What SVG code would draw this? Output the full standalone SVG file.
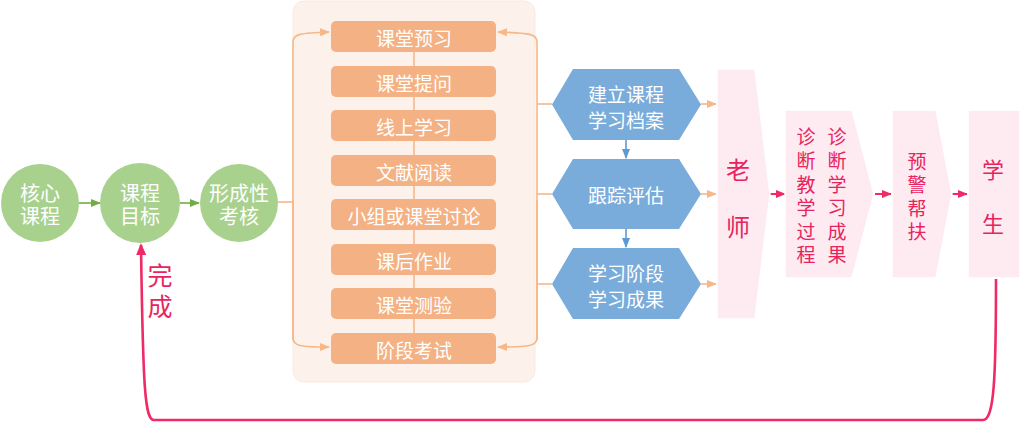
<svg xmlns="http://www.w3.org/2000/svg" width="1021" height="423" viewBox="0 0 1021 423">
<style>
text{font-family:"Noto Sans CJK SC","Noto Sans",sans-serif;text-anchor:middle;dominant-baseline:central}
.circ{fill:#a9d18e}
.wt{fill:#fff;font-size:19px}
.box{fill:#f4b183}
.hex{fill:#79acdb}
.pink{fill:#fdebf1;stroke:#fff;stroke-width:1.5}
.rt{fill:#e8245f}
.og{stroke:#f6b889;stroke-width:1.6;fill:none}
.gl{stroke:#70ad47;stroke-width:1.6;fill:none}
.bl{stroke:#5b9bd5;stroke-width:1.6;fill:none}
.rl{stroke:#ef2a66;stroke-width:2;fill:none}
.fb{stroke:#ef2a66;stroke-width:2.6;fill:none}
</style>
<defs>
<marker id="ao" markerUnits="userSpaceOnUse" markerWidth="10" markerHeight="8" refX="9" refY="4" orient="auto"><path d="M0,0 L10,4 L0,8 z" fill="#f6b889"/></marker>
<marker id="ag" markerUnits="userSpaceOnUse" markerWidth="10" markerHeight="8" refX="9" refY="4" orient="auto"><path d="M0,0 L10,4 L0,8 z" fill="#70ad47"/></marker>
<marker id="ab" markerUnits="userSpaceOnUse" markerWidth="10" markerHeight="8" refX="9" refY="4" orient="auto"><path d="M0,0 L10,4 L0,8 z" fill="#5b9bd5"/></marker>
<marker id="ar" markerUnits="userSpaceOnUse" markerWidth="10" markerHeight="8" refX="9" refY="4" orient="auto"><path d="M0,0 L10,4 L0,8 z" fill="#ef2a66"/></marker>
<marker id="arb" markerUnits="userSpaceOnUse" markerWidth="12" markerHeight="10" refX="10" refY="5" orient="auto"><path d="M0,0 L12,5 L0,10 z" fill="#ef2a66"/></marker>
</defs>

<rect id="panel" x="293" y="1" width="242" height="381" rx="11" fill="#fcf2eb" stroke="#fbe9dc" stroke-width="1"/>

<g id="connectors">
<line class="gl" x1="79" y1="203" x2="100" y2="203" marker-end="url(#ag)"/>
<line class="gl" x1="180" y1="203" x2="199" y2="203" marker-end="url(#ag)"/>
<line class="og" x1="278" y1="202" x2="293" y2="202"/>
<path class="og" d="M293 340 L293 42 C293 34 300 33 329 32" marker-end="url(#ao)"/>
<path class="og" d="M293 200 L293 338 C293 346 300 347 329 347" marker-end="url(#ao)"/>
<path class="og" d="M537 340 L537 42 C537 34 530 33 498 32" marker-end="url(#ao)"/>
<path class="og" d="M537 200 L537 338 C537 346 530 347 498 347" marker-end="url(#ao)"/>
<line class="og" x1="414" y1="52" x2="414" y2="333"/>
<line class="og" x1="537" y1="104" x2="552" y2="104"/>
<line class="og" x1="537" y1="194" x2="552" y2="194"/>
<line class="og" x1="537" y1="284" x2="552" y2="284"/>
<line class="og" x1="701" y1="104" x2="716" y2="104" marker-end="url(#ao)"/>
<line class="og" x1="701" y1="194" x2="716" y2="194" marker-end="url(#ao)"/>
<line class="og" x1="701" y1="284" x2="716" y2="284" marker-end="url(#ao)"/>
<line class="bl" x1="626" y1="140" x2="626" y2="158" marker-end="url(#ab)"/>
<line class="bl" x1="626" y1="229" x2="626" y2="247" marker-end="url(#ab)"/>
<line class="rl" x1="770" y1="194" x2="785" y2="194" marker-end="url(#ar)"/>
<line class="rl" x1="875" y1="194" x2="891" y2="194" marker-end="url(#ar)"/>
<line class="rl" x1="952" y1="194" x2="967" y2="194" marker-end="url(#ar)"/>
<path class="fb" d="M996 279 C996 380 994 420 983 420 L154 420 C145 420 143 390 141 245" marker-end="url(#arb)"/>
</g>

<g id="n-hexin"><circle class="circ" cx="40" cy="203" r="39"/><text class="wt" x="40" y="192" style="font-size:20px">核心</text><text class="wt" x="40" y="215" style="font-size:20px">课程</text></g>
<g id="n-mubiao"><circle class="circ" cx="140" cy="203" r="40"/><text class="wt" x="140" y="192" style="font-size:20px">课程</text><text class="wt" x="140" y="215" style="font-size:20px">目标</text></g>
<g id="n-kaohe"><circle class="circ" cx="239" cy="203" r="39"/><text class="wt" x="239" y="192" style="font-size:20px">形成性</text><text class="wt" x="239" y="215" style="font-size:20px">考核</text></g>

<g id="b1"><rect class="box" x="331" y="21" width="165" height="31" rx="5"/><text class="wt" x="414" y="37">课堂预习</text></g>
<g id="b2"><rect class="box" x="331" y="66" width="165" height="31" rx="5"/><text class="wt" x="414" y="82">课堂提问</text></g>
<g id="b3"><rect class="box" x="331" y="110" width="165" height="31" rx="5"/><text class="wt" x="414" y="126">线上学习</text></g>
<g id="b4"><rect class="box" x="331" y="155" width="165" height="31" rx="5"/><text class="wt" x="414" y="171">文献阅读</text></g>
<g id="b5"><rect class="box" x="331" y="199" width="165" height="31" rx="5"/><text class="wt" x="414" y="215">小组或课堂讨论</text></g>
<g id="b6"><rect class="box" x="331" y="244" width="165" height="31" rx="5"/><text class="wt" x="414" y="260">课后作业</text></g>
<g id="b7"><rect class="box" x="331" y="288" width="165" height="31" rx="5"/><text class="wt" x="414" y="304">课堂测验</text></g>
<g id="b8"><rect class="box" x="331" y="333" width="165" height="31" rx="5"/><text class="wt" x="414" y="349">阶段考试</text></g>

<g id="h1"><polygon class="hex" points="552,104.5 573,69 679,69 701,104.5 679,140 573,140"/><text class="wt" x="626" y="93">建立课程</text><text class="wt" x="626" y="119">学习档案</text></g>
<g id="h2"><polygon class="hex" points="552,194 573,159 679,159 701,194 679,229 573,229"/><text class="wt" x="626" y="194">跟踪评估</text></g>
<g id="h3"><polygon class="hex" points="552,284 573,248 679,248 701,284 679,319 573,319"/><text class="wt" x="626" y="272">学习阶段</text><text class="wt" x="626" y="298">学习成果</text></g>

<g id="p-laoshi"><polygon class="pink" points="717,69 755,69 770,194 755,319 717,319"/><text class="rt" x="738" y="168" style="font-size:24px">老</text><text class="rt" x="738" y="225" style="font-size:24px">师</text></g>
<g id="p-zhenduan"><polygon class="pink" points="785,110 852,110 874,194 852,278 785,278"/>
<text class="rt" x="806" y="135" style="font-size:19px">诊</text><text class="rt" x="806" y="159" style="font-size:19px">断</text><text class="rt" x="806" y="183" style="font-size:19px">教</text><text class="rt" x="806" y="206" style="font-size:19px">学</text><text class="rt" x="806" y="230" style="font-size:19px">过</text><text class="rt" x="806" y="253" style="font-size:19px">程</text>
<text class="rt" x="837" y="135" style="font-size:19px">诊</text><text class="rt" x="837" y="159" style="font-size:19px">断</text><text class="rt" x="837" y="183" style="font-size:19px">学</text><text class="rt" x="837" y="206" style="font-size:19px">习</text><text class="rt" x="837" y="230" style="font-size:19px">成</text><text class="rt" x="837" y="253" style="font-size:19px">果</text></g>
<g id="p-yujing"><polygon class="pink" points="892,110 936,110 952,194 936,278 892,278"/>
<text class="rt" x="917" y="160" style="font-size:19px">预</text><text class="rt" x="917" y="183" style="font-size:19px">警</text><text class="rt" x="917" y="207" style="font-size:19px">帮</text><text class="rt" x="917" y="230" style="font-size:19px">扶</text></g>
<g id="p-xuesheng"><rect class="pink" x="968" y="110" width="52" height="168"/><text class="rt" x="993" y="168" style="font-size:22px">学</text><text class="rt" x="993" y="222" style="font-size:22px">生</text></g>

<g id="l-wancheng"><text class="rt" x="160" y="274" style="font-size:25px">完</text><text class="rt" x="160" y="305" style="font-size:25px">成</text></g>
</svg>
